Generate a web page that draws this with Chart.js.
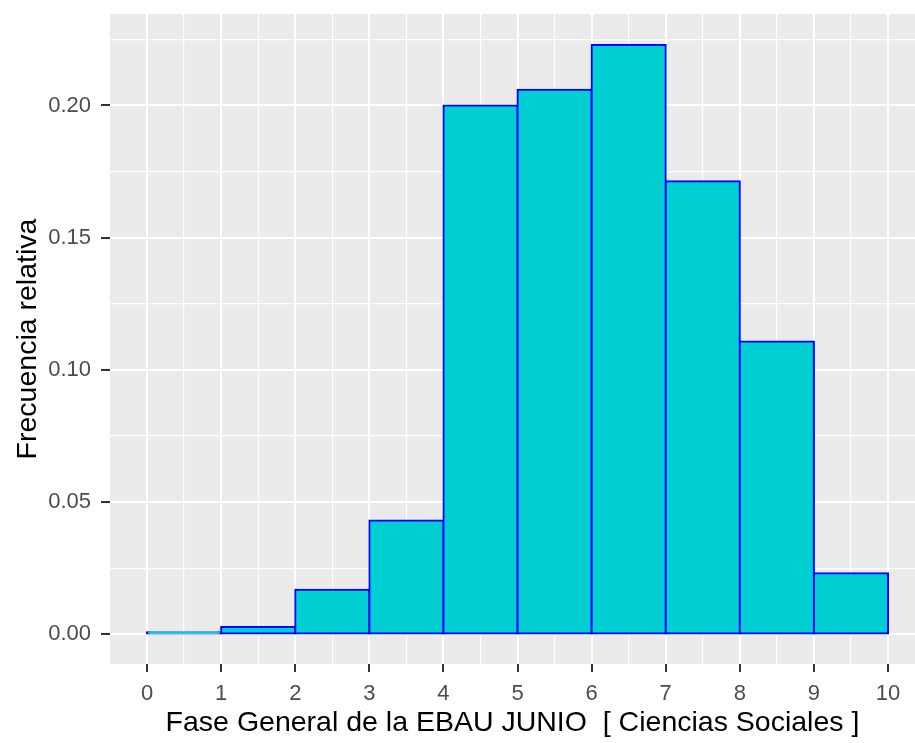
<!DOCTYPE html>
<html>
<head>
<meta charset="utf-8">
<script src="https://cdn.jsdelivr.net/npm/chart.js@4/dist/chart.umd.min.js"></script>
<style>
  html, body { margin: 0; padding: 0; background: #ffffff; overflow: hidden; }
  #c { display: block; }
</style>
</head>
<body>
<canvas id="c" width="915" height="743"></canvas>
<script>
// Histogram of EBAU (Ciencias Sociales) grades: one bin per unit interval [k, k+1)
const binStarts = [0, 1, 2, 3, 4, 5, 6, 7, 8, 9];
const relFreq   = [0.0008, 0.0028, 0.0169, 0.0431, 0.2000, 0.2060, 0.2229, 0.1714, 0.1108, 0.0231];
const xTickValues = [0, 1, 2, 3, 4, 5, 6, 7, 8, 9, 10];
const yTickValues = [0.00, 0.05, 0.10, 0.15, 0.20];

const xTitle = 'Fase General de la EBAU JUNIO  [ Ciencias Sociales ]';
const yTitle = 'Frecuencia relativa';

const FONT = "'Liberation Sans', Arial, sans-serif";

const isXMajor = v => xTickValues.some(t => Math.abs(t - v) < 1e-9);
const isYMajor = v => yTickValues.some(t => Math.abs(t - v) < 1e-9);

// grey panel behind the grid
const panelBg = {
  id: 'panelBg',
  beforeDraw(chart) {
    const { ctx, chartArea: a } = chart;
    ctx.save();
    ctx.fillStyle = '#EBEBEB';
    ctx.fillRect(a.left, a.top, a.right - a.left, a.bottom - a.top);
    ctx.restore();
  }
};

const data = {
  datasets: [{
    data: binStarts.map((s, i) => ({ x: s + 0.5, y: relFreq[i] })),
    backgroundColor: '#00CED1',
    borderColor: '#0000FF',
    borderWidth: 2,
    borderSkipped: false,
    inflateAmount: 1,
    barThickness: 'flex',
    barPercentage: 1,
    categoryPercentage: 1
  }]
};

new Chart(document.getElementById('c'), {
  type: 'bar',
  data,
  plugins: [panelBg],
  options: {
    responsive: false,
    animation: false,
    layout: { padding: { top: 14, right: 0, left: 0, bottom: 0 } },
    plugins: { legend: { display: false }, tooltip: { enabled: false } },
    scales: {
      x: {
        type: 'linear',
        min: -0.5,
        max: 10.364,
        offset: false,
        border: { display: false },
        grid: {
          offset: false,
          color: '#FFFFFF',
          lineWidth: c => {
            const v = c.tick ? c.tick.value : NaN;
            if (v < -1e-9 || v > 10 + 1e-9) return 0;
            return isXMajor(v) ? 2 : 1.2;
          },
          tickColor: c => (c.tick && isXMajor(c.tick.value)) ? '#333333' : 'rgba(0,0,0,0)',
          tickLength: 8,
          tickWidth: 2
        },
        ticks: {
          stepSize: 0.5,
          includeBounds: false,
          autoSkip: false,
          maxRotation: 0,
          minRotation: 0,
          padding: 9,
          color: '#4D4D4D',
          font: { family: FONT, size: 22 },
          callback: v => isXMajor(v) ? String(Math.round(v)) : ''
        },
        title: {
          display: true,
          text: xTitle,
          color: '#000000',
          font: { family: FONT, size: 28.5 },
          padding: { top: 0, bottom: 3 }
        },
        afterFit: s => { s.height = 79; s.paddingLeft = 0; s.paddingRight = 0; }
      },
      y: {
        type: 'linear',
        min: -0.0112,
        max: 0.2346,
        border: { display: false },
        grid: {
          color: '#FFFFFF',
          lineWidth: c => {
            const v = c.tick ? c.tick.value : NaN;
            if (v < -1e-9) return 0;
            return isYMajor(v) ? 2 : 1.2;
          },
          tickColor: c => (c.tick && isYMajor(c.tick.value)) ? '#333333' : 'rgba(0,0,0,0)',
          tickLength: 9,
          tickWidth: 2
        },
        ticks: {
          stepSize: 0.025,
          includeBounds: false,
          autoSkip: false,
          padding: 10,
          color: '#4D4D4D',
          font: { family: FONT, size: 22 },
          callback: v => isYMajor(v) ? v.toFixed(2) : ''
        },
        title: {
          display: true,
          text: yTitle,
          color: '#000000',
          font: { family: FONT, size: 28.5 },
          padding: { top: 11, bottom: 0 }
        },
        afterFit: s => { s.width = 110; s.paddingTop = 0; s.paddingBottom = 0; }
      }
    }
  }
});
</script>
</body>
</html>
